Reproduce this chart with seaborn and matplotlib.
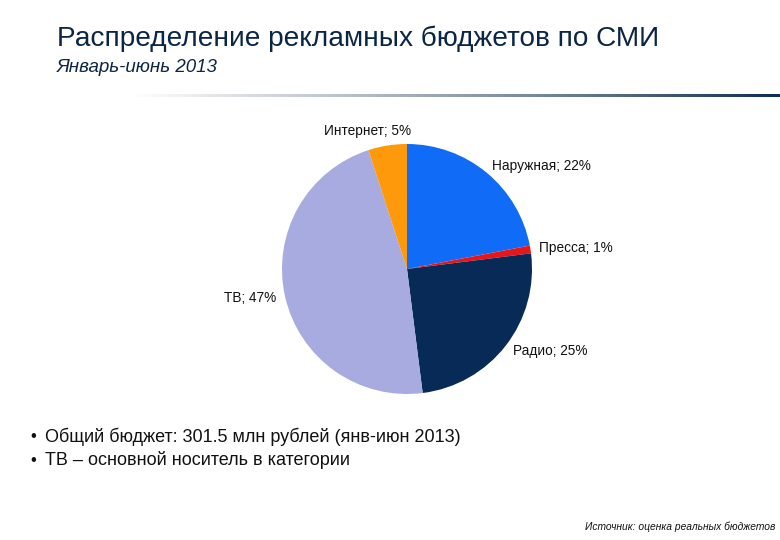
import numpy as np
import matplotlib
matplotlib.use("Agg")
import matplotlib.pyplot as plt
import seaborn as sns
from matplotlib.colors import LinearSegmentedColormap

sns.set_theme(style="white")
plt.rcParams["font.family"] = ["Liberation Sans", "DejaVu Sans"]

# данные
media = ["Наружная", "Пресса", "Радио", "ТВ", "Интернет"]
shares = [22, 1, 25, 47, 5]
colors = ["#106CF6", "#E8151B", "#082A57", "#A8ABDF", "#FD990B"]

title = "Распределение рекламных бюджетов по СМИ"
subtitle = "Январь-июнь 2013"
bullets = ["Общий бюджет: 301.5 млн рублей (янв-июн 2013)",
           "ТВ – основной носитель в категории"]
source = "Источник: оценка реальных бюджетов"

navy = "#0B2545"

fig = plt.figure(figsize=(7.8, 5.4), dpi=100)

# заголовок
fig.text(57 / 780, 1 - 39 / 540, title, fontsize=20.2, color=navy, va="center")
fig.text(57 / 780, 1 - 67 / 540, subtitle, fontsize=13.5, color=navy,
         style="italic", va="center")

# градиентная линия под заголовком
line_ax = fig.add_axes([130 / 780, 1 - 97 / 540, 650 / 780, 3 / 540])
grad = np.linspace(0, 1, 256).reshape(1, -1)
cmap = LinearSegmentedColormap.from_list("fade", ["#FFFFFF", "#B8C0C8", "#6C7F94", "#0E2D55"])
line_ax.imshow(grad, aspect="auto", cmap=cmap)
line_ax.set_axis_off()

# круговая диаграмма
ax = fig.add_axes([(407 - 125) / 780, 1 - (269 + 125) / 540, 250 / 780, 250 / 540])
labels = [f"{m}; {s}%" for m, s in zip(media, shares)]
wedges, texts = ax.pie(shares, labels=labels, colors=colors, startangle=90,
                       counterclock=False, labeldistance=1.07,
                       wedgeprops=dict(linewidth=0),
                       textprops=dict(fontsize=9.8, color="#111111"))
for t in texts:
    if t.get_text().startswith("Интернет"):
        t.set_horizontalalignment("center")
        x, y = t.get_position()
        t.set_position((x - 0.15, y + 0.05))
ax.set_xlim(-1, 1)
ax.set_ylim(-1, 1)
ax.set_aspect("equal")

# пункты
for i, b in enumerate(bullets):
    y = 1 - (437 + 23 * i) / 540
    fig.text(30 / 780, y, "•", fontsize=12, color="#111111", va="center")
    fig.text(45 / 780, y, b, fontsize=13, color="#111111", va="center")

# источник
fig.text(775 / 780, 1 - 527 / 540, source, fontsize=7.4, style="italic",
         color="#111111", ha="right", va="center")

fig.savefig("out.png", dpi=100)
